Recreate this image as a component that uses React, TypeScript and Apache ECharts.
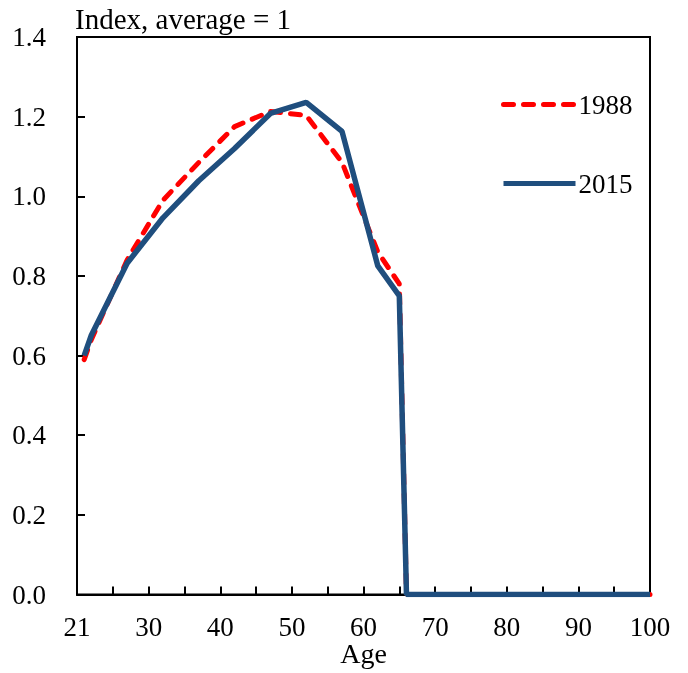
import React, { useEffect, useRef } from "react";
import * as echarts from "echarts";

const ages = [21, 22, 27, 32, 37, 42, 47, 52, 57, 62, 65, 66, 100];
const y1988 = [0.59, 0.64, 0.84, 0.99, 1.085, 1.175, 1.213, 1.203, 1.085, 0.86, 0.78, 0, 0];
const y2015 = [0.6, 0.651, 0.832, 0.946, 1.039, 1.12, 1.208, 1.236, 1.163, 0.825, 0.75, 0, 0];
const seriesNames = ["1988", "2015"];
const yTitle = "Index, average = 1";
const xTitle = "Age";

const FONT = '"Liberation Serif", "Times New Roman", serif';

export default function App() {
  const ref = useRef<HTMLDivElement>(null);
  useEffect(() => {
    document.body.style.margin = "0";
    document.body.style.overflow = "hidden";
    const chart = echarts.init(ref.current!, null, { renderer: "svg" });
    chart.setOption({
      animation: false,
      textStyle: { fontFamily: FONT, color: "#000" },
      title: {
        text: yTitle,
        left: 70,
        top: -1,
        textStyle: { fontFamily: FONT, fontSize: 29, fontWeight: "normal", color: "#000" },
      },
      legend: {
        orient: "vertical",
        left: 496,
        top: 86,
        itemWidth: 72,
        itemHeight: 28,
        itemGap: 52,
        data: seriesNames,
        itemStyle: { opacity: 0 },
        lineStyle: { width: 5 },
        textStyle: { fontFamily: FONT, fontSize: 27, color: "#000", padding: [0, 0, 0, -2] },
      },
      grid: {
        left: 77,
        right: 38,
        top: 37,
        bottom: 78.5,
        outerBoundsMode: "none",
        containLabel: false,
        show: true,
        borderColor: "#000",
        borderWidth: 2,
      },
      xAxis: {
        type: "value",
        min: 20,
        max: 100,
        interval: 5,
        name: xTitle,
        nameLocation: "middle",
        nameGap: 47,
        nameMoveOverlap: false,
        nameTextStyle: {
          fontFamily: FONT,
          fontSize: 28,
          lineHeight: 24,
          color: "#000",
          verticalAlign: "top",
        },
        axisLine: { show: true, lineStyle: { color: "#000", width: 2 } },
        axisTick: { show: true, inside: true, length: 8, lineStyle: { color: "#000", width: 2 } },
        splitLine: { show: false },
        axisLabel: {
          margin: 21,
          fontFamily: FONT,
          fontSize: 27,
          lineHeight: 23,
          color: "#000",
          showMinLabel: true,
          showMaxLabel: true,
          formatter: (v: number) => (v === 20 ? "21" : v % 10 === 0 ? String(v) : ""),
        },
      },
      yAxis: {
        type: "value",
        min: 0,
        max: 1.4,
        interval: 0.2,
        axisLine: { show: true, lineStyle: { color: "#000", width: 2 } },
        axisTick: { show: true, inside: true, length: 8, lineStyle: { color: "#000", width: 2 } },
        splitLine: { show: false },
        axisLabel: {
          margin: 31,
          fontFamily: FONT,
          fontSize: 27,
          color: "#000",
          formatter: (v: number) => v.toFixed(1),
        },
      },
      series: [
        {
          name: seriesNames[0],
          type: "line",
          data: ages.map((a, i) => [a, y1988[i]]),
          symbol: "none",
          lineStyle: { color: "#FF0000", width: 5, type: [10, 10], cap: "round" },
          itemStyle: { color: "#FF0000" },
          z: 2,
        },
        {
          name: seriesNames[1],
          type: "line",
          data: ages.map((a, i) => [a, y2015[i]]),
          symbol: "none",
          lineStyle: { color: "#1F4E7E", width: 5.5, cap: "butt" },
          itemStyle: { color: "#1F4E7E" },
          z: 3,
        },
      ],
    });
    return () => chart.dispose();
  }, []);
  return (
    <div
      ref={ref}
      style={{ position: "fixed", left: 0, top: 0, width: 688, height: 673 }}
    />
  );
}
